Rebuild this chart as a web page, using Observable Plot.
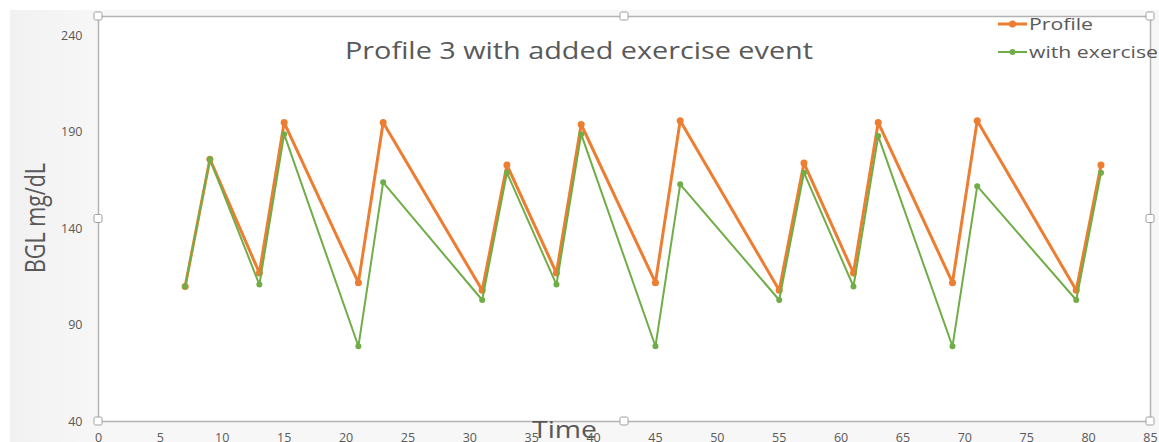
<!DOCTYPE html>
<html>
<head>
<meta charset="utf-8">
<script src="https://cdn.jsdelivr.net/npm/d3@7"></script>
<script src="https://cdn.jsdelivr.net/npm/@observablehq/plot@0.6"></script>
<style>
  html, body { margin: 0; padding: 0; background: #ffffff; }
  #chart svg { display: block; }
</style>
</head>
<body>
<div id="chart"></div>
<script>
// ---- Data ----
const times    = [7, 9, 13, 15, 21, 23, 31, 33, 37, 39, 45, 47, 55, 57, 61, 63, 69, 71, 79, 81];
const profile  = [110, 176, 117, 195, 112, 195, 108, 173, 117, 194, 112, 196, 108, 174, 117, 195, 112, 196, 108, 173];
const exercise = [110, 176, 111, 189, 79, 164, 103, 169, 111, 189, 79, 163, 103, 169, 110, 188, 79, 162, 103, 169];
const xTicks = [0, 5, 10, 15, 20, 25, 30, 35, 40, 45, 50, 55, 60, 65, 70, 75, 80, 85];
const yTicks = [40, 90, 140, 190, 240];
const seriesNames = ["Profile", "with exercise"];
const titleText = "Profile 3 with added exercise event";
const xLabel = "Time";
const yLabel = "BGL mg/dL";

const ORANGE = "#ED7D31";
const GREEN = "#70AD47";
const TEXT = "#595959";

const profileData = times.map((t, i) => ({t, v: profile[i]}));
const exerciseData = times.map((t, i) => ({t, v: exercise[i]}));

const chart = Plot.plot({
  width: 1159,
  height: 442,
  marginLeft: 98,
  marginRight: 9,
  marginTop: 16,
  marginBottom: 21,
  x: {domain: [0, 85]},
  y: {domain: [40, 250]},
  style: {
    fontFamily: "'Open Sans', sans-serif",
    fontSize: "12.5px",
    color: TEXT,
    background: "linear-gradient(to bottom, #ffffff 0px, #ffffff 10px, rgba(255,255,255,0) 10px), linear-gradient(to right, #ffffff 0px, #ffffff 10px, #f1f1f1 10px, #f7f7f7 98px, #f7f7f7 100%)"
  },
  marks: [
    Plot.frame({fill: "white", stroke: "#b3b3b3", strokeWidth: 1.5}),
    Plot.axisY({ticks: yTicks, tickSize: 0, tickPadding: 16, label: null}),
    Plot.axisX({ticks: xTicks, tickSize: 0, tickPadding: 12, label: null}),
    Plot.line(profileData, {x: "t", y: "v", stroke: ORANGE, strokeWidth: 3}),
    Plot.dot(profileData, {x: "t", y: "v", r: 3.5, fill: ORANGE, stroke: "none"}),
    Plot.line(exerciseData, {x: "t", y: "v", stroke: GREEN, strokeWidth: 2}),
    Plot.dot(exerciseData, {x: "t", y: "v", r: 3, fill: GREEN, stroke: "none"})
  ]
});

document.getElementById("chart").appendChild(chart);

// ---- Decorations: title, axis titles, legend, selection handles ----
const svg = d3.select(chart);
const [xl, xr] = chart.scale("x").range;
const [yb, yt] = chart.scale("y").range;
const font = "'Open Sans', sans-serif";

// Title
svg.append("text")
  .attr("x", 345).attr("y", 59)
  .attr("text-anchor", "start")
  .attr("font-family", font).attr("font-size", 24)
  .attr("fill", TEXT)
  .attr("textLength", 468).attr("lengthAdjust", "spacingAndGlyphs")
  .text(titleText);

// Y axis title
svg.append("text")
  .attr("transform", "translate(45,218) rotate(-90)")
  .attr("text-anchor", "middle")
  .attr("font-family", font).attr("font-size", 28)
  .attr("fill", TEXT)
  .attr("textLength", 110).attr("lengthAdjust", "spacingAndGlyphs")
  .text(yLabel);

// X axis title
svg.append("text")
  .attr("x", 532).attr("y", 438)
  .attr("text-anchor", "start")
  .attr("font-family", font).attr("font-size", 24)
  .attr("fill", TEXT)
  .attr("textLength", 65).attr("lengthAdjust", "spacingAndGlyphs")
  .text(xLabel);

// Legend
const legendItems = [
  {name: seriesNames[0], color: ORANGE, w: 3, r: 3.5, y: 24, len: 64},
  {name: seriesNames[1], color: GREEN, w: 2, r: 3, y: 52, len: 129}
];
for (const it of legendItems) {
  svg.append("line")
    .attr("x1", 998).attr("x2", 1027).attr("y1", it.y).attr("y2", it.y)
    .attr("stroke", it.color).attr("stroke-width", it.w);
  svg.append("circle")
    .attr("cx", 1012.5).attr("cy", it.y).attr("r", it.r)
    .attr("fill", it.color);
  svg.append("text")
    .attr("x", 1029).attr("y", it.y + 5.5)
    .attr("text-anchor", "start")
    .attr("font-family", font).attr("font-size", 17)
    .attr("fill", TEXT)
    .attr("textLength", it.len).attr("lengthAdjust", "spacingAndGlyphs")
    .text(it.name);
}

// Selection handles
const xm = (xl + xr) / 2, ym = (yb + yt) / 2;
const handles = [[xl, yt], [xm, yt], [xr, yt], [xl, ym], [xr, ym], [xl, yb], [xm, yb], [xr, yb]];
for (const [hx, hy] of handles) {
  svg.append("rect")
    .attr("x", hx - 4).attr("y", hy - 4).attr("width", 8).attr("height", 8)
    .attr("rx", 1.5)
    .attr("fill", "white").attr("stroke", "#a0a0a0").attr("stroke-width", 1);
}
</script>
</body>
</html>
